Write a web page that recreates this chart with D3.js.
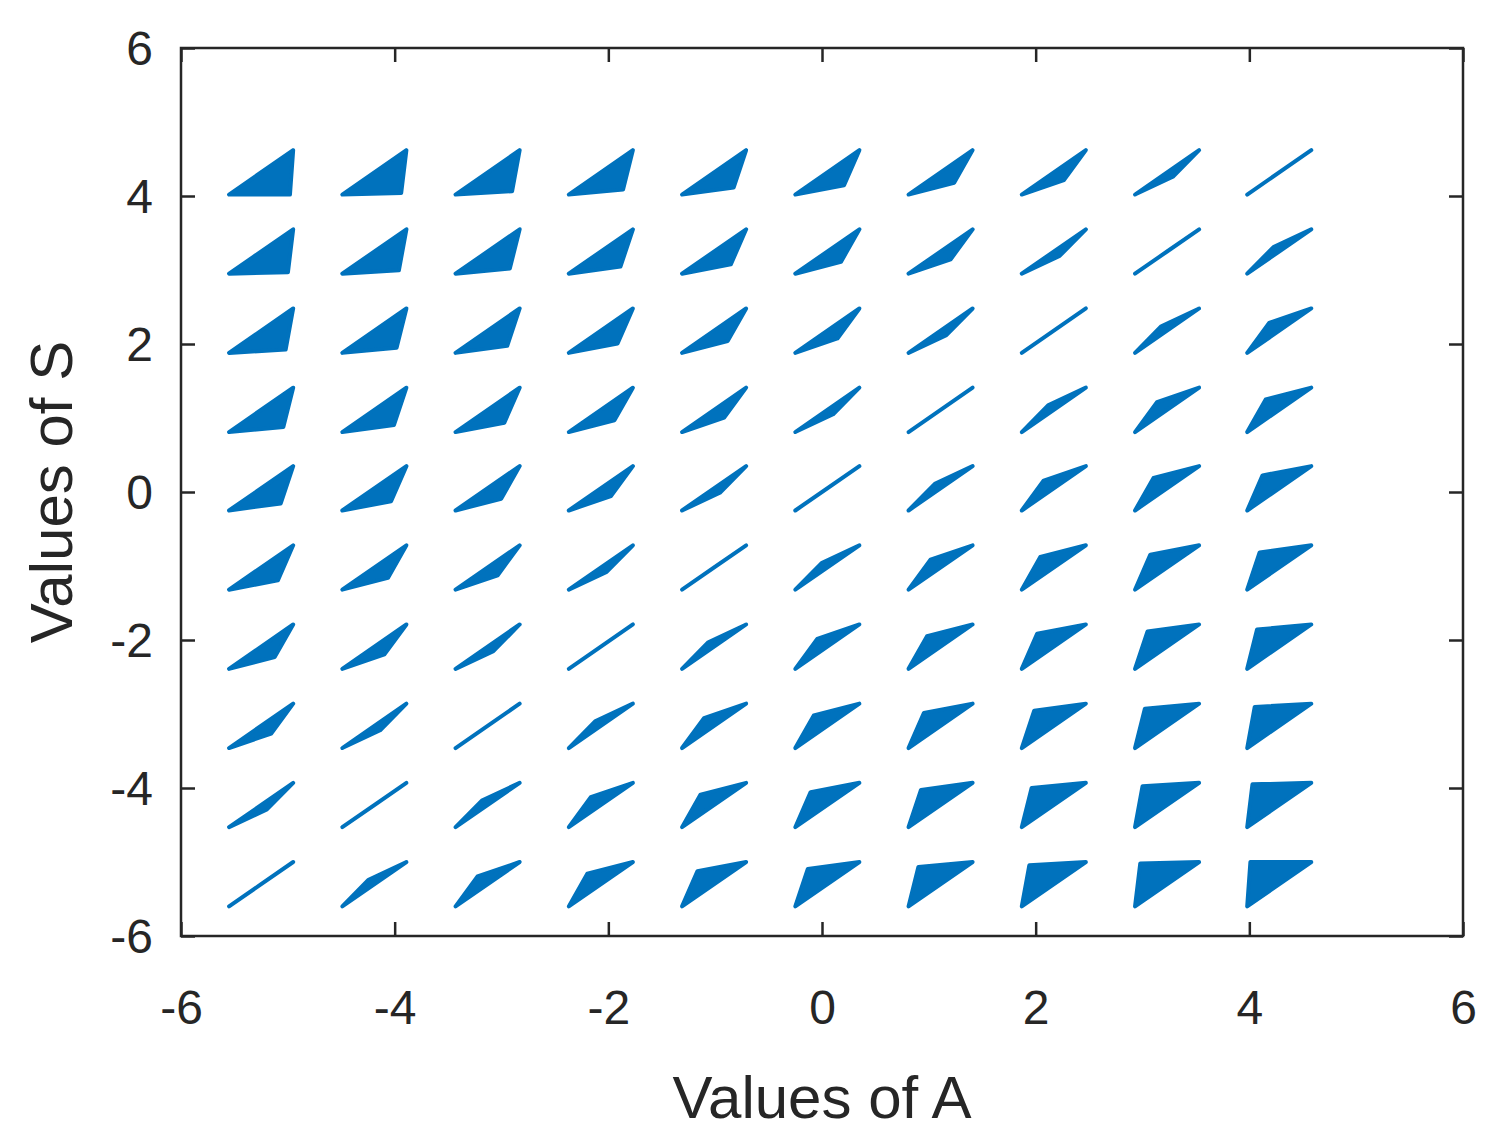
<!DOCTYPE html>
<html><head><meta charset="utf-8">
<script src="https://cdn.jsdelivr.net/npm/d3@7"></script>
<style>body{margin:0;background:#fff}text{font-family:"Liberation Sans",Arial,sans-serif;fill:#262626}</style>
</head><body><div id="chart"></div>
<script>
// glyph start points (lower-left) along A and S
const aStarts = [-5.55, -4.49, -3.43, -2.37, -1.31, -0.25, 0.81, 1.87, 2.93, 3.98];
const sStarts = [-5.6, -4.53, -3.46, -2.39, -1.32, -0.25, 0.81, 1.88, 2.95, 4.02];
// spread of each fan: rows = S (bottom to top), cols = A (left to right); +1 opens below, -1 opens above
const spread = [
  [0.00, -0.20, -0.35, -0.47, -0.58, -0.68, -0.77, -0.85, -0.93, -1.00],
  [0.20, 0.00, -0.20, -0.35, -0.47, -0.58, -0.68, -0.77, -0.85, -0.93],
  [0.35, 0.20, 0.00, -0.20, -0.35, -0.47, -0.58, -0.68, -0.77, -0.85],
  [0.47, 0.35, 0.20, 0.00, -0.20, -0.35, -0.47, -0.58, -0.68, -0.77],
  [0.58, 0.47, 0.35, 0.20, 0.00, -0.20, -0.35, -0.47, -0.58, -0.68],
  [0.68, 0.58, 0.47, 0.35, 0.20, 0.00, -0.20, -0.35, -0.47, -0.58],
  [0.77, 0.68, 0.58, 0.47, 0.35, 0.20, 0.00, -0.20, -0.35, -0.47],
  [0.85, 0.77, 0.68, 0.58, 0.47, 0.35, 0.20, 0.00, -0.20, -0.35],
  [0.93, 0.85, 0.77, 0.68, 0.58, 0.47, 0.35, 0.20, 0.00, -0.20],
  [1.00, 0.93, 0.85, 0.77, 0.68, 0.58, 0.47, 0.35, 0.20, 0.00]
];
const ticks = [-6, -4, -2, 0, 2, 4, 6];

const W = 1499, H = 1148, m = {l: 181, r: 36, t: 48, b: 212};
const svg = d3.select('#chart').append('svg').attr('width', W).attr('height', H);
const x = d3.scaleLinear().domain([-6, 6]).range([m.l, W - m.r]);
const y = d3.scaleLinear().domain([-6, 6]).range([H - m.b, m.t]);

const glyphs = [];
sStarts.forEach((s, r) => aStarts.forEach((a, c) => {
  const t = spread[r][c], g = 0.6;
  const corner = [a + 0.3 + 0.27 * t, s + 0.3 - 0.3 * t];
  glyphs.push([[a, s], corner, [a + g, s + g]]);
}));
svg.append('g').selectAll('path').data(glyphs).join('path')
  .attr('d', p => 'M' + p.map(q => x(q[0]) + ',' + y(q[1])).join('L') + 'Z')
  .attr('fill', '#0072BD').attr('stroke', '#0072BD').attr('stroke-width', 4).attr('stroke-linejoin', 'round');

const fmt = d => String(d);
const ax = (g, axis, labels) => g.call(axis.tickValues(ticks).tickFormat(labels ? fmt : () => '').tickSizeOuter(0))
  .call(g => g.select('.domain').remove())
  .call(g => g.selectAll('line').attr('stroke', '#262626').attr('stroke-width', 2.5));
const ih = H - m.t - m.b, iw = W - m.l - m.r;
svg.append('g').attr('transform', `translate(0,${H - m.b})`).call(g => ax(g, d3.axisBottom(x).tickSize(-14).tickPadding(54), true))
  .selectAll('text').attr('font-size', 48).style('fill', '#262626');
svg.append('g').attr('transform', `translate(0,${m.t})`).call(g => ax(g, d3.axisTop(x).tickSize(-14), false));
svg.append('g').attr('transform', `translate(${m.l},0)`).call(g => ax(g, d3.axisLeft(y).tickSize(-14).tickPadding(28), true))
  .selectAll('text').attr('font-size', 48).attr('dy', '0.35em').style('fill', '#262626');
svg.append('g').attr('transform', `translate(${W - m.r},0)`).call(g => ax(g, d3.axisRight(y).tickSize(-14), false));
svg.selectAll('.tick text').attr('font-family', '"Liberation Sans",Arial,sans-serif');
svg.append('rect').attr('x', m.l).attr('y', m.t).attr('width', iw).attr('height', ih)
  .attr('fill', 'none').attr('stroke', '#262626').attr('stroke-width', 2.5);

svg.append('text').attr('x', x(0)).attr('y', 1118).attr('text-anchor', 'middle').attr('font-size', 60).text('Values of A');
svg.append('text').attr('transform', `translate(72,${y(0)}) rotate(-90)`).attr('text-anchor', 'middle').attr('font-size', 60).text('Values of S');
</script></body></html>
